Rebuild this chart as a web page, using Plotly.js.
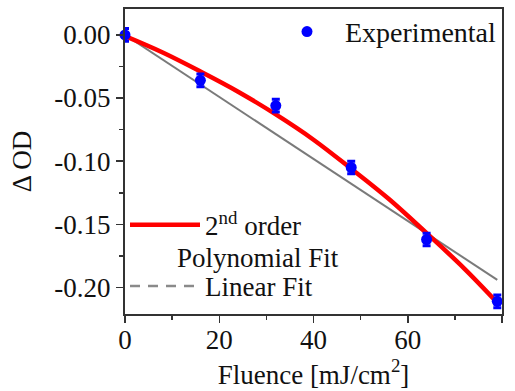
<!DOCTYPE html>
<html>
<head>
<meta charset="utf-8">
<script src="https://cdn.plot.ly/plotly-3.0.1.min.js"></script>
<style>html,body{margin:0;padding:0;background:#fff;}#chart{width:515px;height:391px;}</style>
</head>
<body>
<div id="chart"></div>
<script>
// Experimental data
var expX = [0, 16, 32, 48, 64, 79];
var expY = [0.000, -0.036, -0.056, -0.105, -0.162, -0.211];
var expErr = [0.005, 0.005, 0.005, 0.005, 0.005, 0.005];

// 2nd order polynomial fit curve
var polyX = [0, 8, 16, 24, 32, 40, 48, 56, 64, 72, 79];
var polyY = [-0.001, -0.014, -0.029, -0.045, -0.063, -0.083, -0.106, -0.130, -0.157, -0.185, -0.212];

// Linear fit line
var linX = [0, 79];
var linY = [0.000, -0.194];

// Tick labels
var yTickVals = [0, -0.05, -0.10, -0.15, -0.20];
var yTickText = ["0.00", "-0.05", "-0.10", "-0.15", "-0.20"];
var xTickVals = [0, 20, 40, 60, 80];
var xTickText = ["0", "20", "40", "60", "80"];

var FONT = "'Liberation Serif', 'DejaVu Serif', serif";

var traces = [
  {
    x: linX, y: linY, type: 'scatter', mode: 'lines',
    line: {color: '#7a7a7a', width: 2},
    showlegend: false, hoverinfo: 'skip'
  },
  {
    x: polyX, y: polyY, type: 'scatter', mode: 'lines',
    line: {color: '#ff0000', width: 4.5, shape: 'spline'},
    name: '2<sup>nd</sup> order',
    legend: 'legend2', legendgroup: 'a'
  },
  {
    x: [null], y: [null], type: 'scatter', mode: 'lines',
    line: {color: '#8a8a8a', width: 2.5, dash: '10px,8px'},
    name: 'Linear Fit',
    legend: 'legend2', legendgroup: 'b'
  },
  {
    x: expX, y: expY, type: 'scatter', mode: 'markers',
    marker: {color: '#0000ff', size: 11},
    error_y: {type: 'data', array: expErr, visible: true, color: '#0000ff', thickness: 3, width: 4},
    cliponaxis: false,
    name: 'Experimental',
    legend: 'legend'
  }
];

var layout = {
  width: 515, height: 391,
  margin: {l: 125, r: 13, t: 8, b: 77},
  paper_bgcolor: '#ffffff', plot_bgcolor: '#ffffff',
  font: {family: FONT, size: 27, color: '#111111'},
  showlegend: true,
  legend: {
    x: 1, xanchor: 'right', y: 0.922, yanchor: 'middle',
    bgcolor: 'rgba(0,0,0,0)', borderwidth: 0,
    font: {family: FONT, size: 28, color: '#111111'},
    itemwidth: 66
  },
  legend2: {
    x: 0, xanchor: 'left', y: 0.37, yanchor: 'top',
    bgcolor: 'rgba(0,0,0,0)', borderwidth: 0,
    font: {family: FONT, size: 27, color: '#111111'},
    itemwidth: 70, tracegroupgap: 23
  },
  annotations: [
    {
      text: 'Polynomial Fit', xref: 'paper', yref: 'paper',
      x: 0.133, y: 0.183, xanchor: 'left', yanchor: 'middle',
      showarrow: false, font: {family: FONT, size: 27, color: '#111111'}
    }
  ],
  xaxis: {
    range: [0, 80],
    tickmode: 'array', tickvals: xTickVals, ticktext: xTickText,
    ticks: 'outside', ticklen: 7, tickwidth: 1.5, tickcolor: '#333',
    ticklabelstandoff: -6,
    minor: {dtick: 10, tick0: 0, ticks: 'outside', ticklen: 4, tickwidth: 1.5, tickcolor: '#333', showgrid: false},
    showline: true, linecolor: '#333', linewidth: 2, mirror: true,
    showgrid: false, zeroline: false,
    tickfont: {family: FONT, size: 27, color: '#111'},
    title: {text: 'Fluence [mJ/cm<sup>2</sup>]', font: {family: FONT, size: 27, color: '#111'}, standoff: 8}
  },
  yaxis: {
    range: [-0.221, 0.0205],
    tickmode: 'array', tickvals: yTickVals, ticktext: yTickText,
    ticks: 'outside', ticklen: 7, tickwidth: 1.5, tickcolor: '#333',
    minor: {dtick: 0.025, tick0: 0, ticks: 'outside', ticklen: 4, tickwidth: 1.5, tickcolor: '#333', showgrid: false},
    showline: true, linecolor: '#333', linewidth: 2, mirror: true,
    showgrid: false, zeroline: false,
    tickfont: {family: FONT, size: 27, color: '#111'},
    title: {text: 'Δ OD', font: {family: FONT, size: 27, color: '#111'}, standoff: 15}
  }
};

Plotly.newPlot('chart', traces, layout, {displayModeBar: false, staticPlot: true});
</script>
</body>
</html>
